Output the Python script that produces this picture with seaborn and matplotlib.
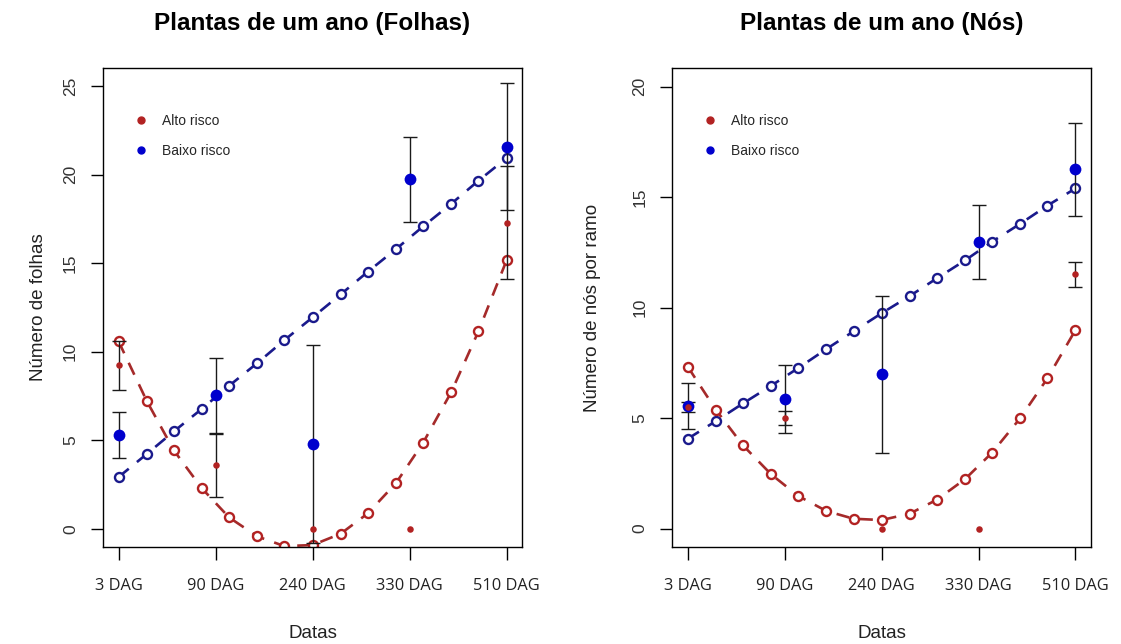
import matplotlib
matplotlib.use("Agg")
import matplotlib.pyplot as plt
import matplotlib.transforms as mtransforms
from matplotlib.lines import Line2D
import seaborn as sns
import pandas as pd

# ---------------- data ----------------
dates = ["3 DAG", "90 DAG", "240 DAG", "330 DAG", "510 DAG"]
x_pos = [1, 2, 3, 4, 5]
fit_x = [1.0, 1.29, 1.57, 1.86, 2.14, 2.43, 2.71, 3.0, 3.29, 3.57, 3.86, 4.14, 4.43, 4.71, 5.0]

# Folhas (leaves)
fol_alto_mean = [9.23, 3.58, 0.0, 0.0, 17.29]
fol_alto_err = [1.37, 1.80, 0.0, 0.0, 3.20]
fol_baixo_mean = [5.29, 7.55, 4.79, 19.74, 21.58]
fol_baixo_err = [1.29, 2.12, 5.59, 2.40, 3.58]
fol_alto_fit = [10.59, 7.23, 4.43, 2.28, 0.64, -0.43, -0.98, -0.92, -0.28, 0.87, 2.58, 4.86, 7.72, 11.15, 15.16]
fol_baixo_fit = [2.92, 4.22, 5.50, 6.78, 8.08, 9.36, 10.66, 11.94, 13.24, 14.52, 15.80, 17.08, 18.36, 19.66, 20.94]

# Nos (nodes)
nos_alto_mean = [5.50, 5.00, 0.0, 0.0, 11.52]
nos_alto_err = [0.23, 0.33, 0.0, 0.0, 0.57]
nos_baixo_mean = [5.55, 5.85, 6.99, 12.96, 16.26]
nos_baixo_err = [1.04, 1.54, 3.55, 1.68, 2.12]
nos_alto_fit = [7.33, 5.38, 3.77, 2.46, 1.48, 0.80, 0.45, 0.39, 0.68, 1.31, 2.24, 3.44, 5.00, 6.80, 8.99]
nos_baixo_fit = [4.07, 4.87, 5.67, 6.47, 7.27, 8.13, 8.93, 9.75, 10.53, 11.33, 12.14, 12.99, 13.80, 14.62, 15.40]

titles = ["Plantas de um ano (Folhas)", "Plantas de um ano (Nós)"]
ylabels = ["Número de folhas", "Número de nós por ramo"]
xlabel = "Datas"
legend_labels = ["Alto risco", "Baixo risco"]
yticks_list = [[0, 5, 10, 15, 20, 25], [0, 5, 10, 15, 20]]
ylims = [(-1.03, 26.03), (-0.83, 20.85)]

# ---------------- style ----------------
sns.set_theme(style="ticks")
plt.rcParams["font.family"] = ["Liberation Sans", "DejaVu Sans"]

RED = "#B22222"
RED_LINE = "#A52A2A"
BLUE = "#0000CD"
NAVY = "#1A1A8C"

fig = plt.figure(figsize=(11.21, 6.44), dpi=100)
axes = [fig.add_axes([0.0919, 0.1506, 0.3738, 0.7438]),
        fig.add_axes([0.5997, 0.1506, 0.3735, 0.7438])]

panels = [
    (fol_alto_mean, fol_alto_err, fol_baixo_mean, fol_baixo_err, fol_alto_fit, fol_baixo_fit),
    (nos_alto_mean, nos_alto_err, nos_baixo_mean, nos_baixo_err, nos_alto_fit, nos_baixo_fit),
]
label_x = [-0.134, -0.170]
xtick_shift = [8, 4]

for i, ax in enumerate(axes):
    am, ae, bm, be, af, bf = panels[i]
    fit_df = pd.DataFrame({"x": fit_x, "alto": af, "baixo": bf})
    mean_df = pd.DataFrame({"x": x_pos, "alto": am, "baixo": bm})

    # fitted curves (dashed with open circles)
    sns.lineplot(data=fit_df, x="x", y="baixo", ax=ax, color=NAVY, lw=1.9,
                 linestyle=(0, (5, 4)), marker="o", markersize=6.5,
                 markerfacecolor="white", markeredgecolor=NAVY, markeredgewidth=1.7,
                 zorder=2)
    sns.lineplot(data=fit_df, x="x", y="alto", ax=ax, color=RED_LINE, lw=1.9,
                 linestyle=(0, (5, 4)), marker="o", markersize=6.5,
                 markerfacecolor="white", markeredgecolor=RED, markeredgewidth=1.7,
                 zorder=2)

    # error bars
    be_nz = [(x, m, e) for x, m, e in zip(x_pos, bm, be) if e > 0]
    ae_nz = [(x, m, e) for x, m, e in zip(x_pos, am, ae) if e > 0]
    for arr in (be_nz, ae_nz):
        ax.errorbar([a[0] for a in arr], [a[1] for a in arr], yerr=[a[2] for a in arr],
                    fmt="none", ecolor="#1a1a1a", elinewidth=1.0, capsize=5,
                    capthick=1.0, zorder=3)

    # mean points
    sns.scatterplot(data=mean_df, x="x", y="baixo", ax=ax, color=BLUE, s=72,
                    edgecolor=BLUE, linewidth=0, zorder=4)
    sns.scatterplot(data=mean_df, x="x", y="alto", ax=ax, color=RED, s=22,
                    edgecolor=RED, linewidth=0, zorder=5)

    ax.set_xlim(0.84, 5.16)
    ax.set_ylim(*ylims[i])
    ax.set_xticks(x_pos)
    ax.set_xticklabels(dates, fontfamily="Open Sans", fontsize=11.8, color="#222222")
    offset = mtransforms.ScaledTranslation(xtick_shift[i] / 100, 0, fig.dpi_scale_trans)
    for lab in ax.get_xticklabels():
        lab.set_transform(lab.get_transform() + offset)
    ax.set_yticks(yticks_list[i])
    ax.set_yticklabels([str(v) for v in yticks_list[i]], rotation=90, va="center",
                       fontsize=12.5, color="#333333")
    ax.tick_params(axis="x", length=9, width=1, pad=13, color="black")
    ax.tick_params(axis="y", length=9, width=1, pad=9, color="black")

    for sp in ax.spines.values():
        sp.set_visible(True)
        sp.set_color("black")
        sp.set_linewidth(1.0)

    ax.set_xlabel(xlabel, fontsize=13.5, color="#222222")
    ax.xaxis.set_label_coords(0.5, -0.162)
    ax.set_ylabel(ylabels[i], fontsize=13.5, color="#222222")
    ax.yaxis.set_label_coords(label_x[i], 0.5)
    ax.set_title(titles[i], fontsize=17.5, fontweight="bold", y=1.062, color="black")

    handles = [Line2D([], [], linestyle="none", marker="o", markersize=5,
                      markerfacecolor=c, markeredgecolor=c) for c in (RED, BLUE)]
    ax.legend(handles, legend_labels, loc="upper left", bbox_to_anchor=(0.074, 0.904),
              frameon=False, fontsize=10, handlelength=1.0, handletextpad=1.0,
              labelspacing=1.15, borderpad=0, borderaxespad=0)

fig.savefig("out.png", dpi=100, facecolor="white")
